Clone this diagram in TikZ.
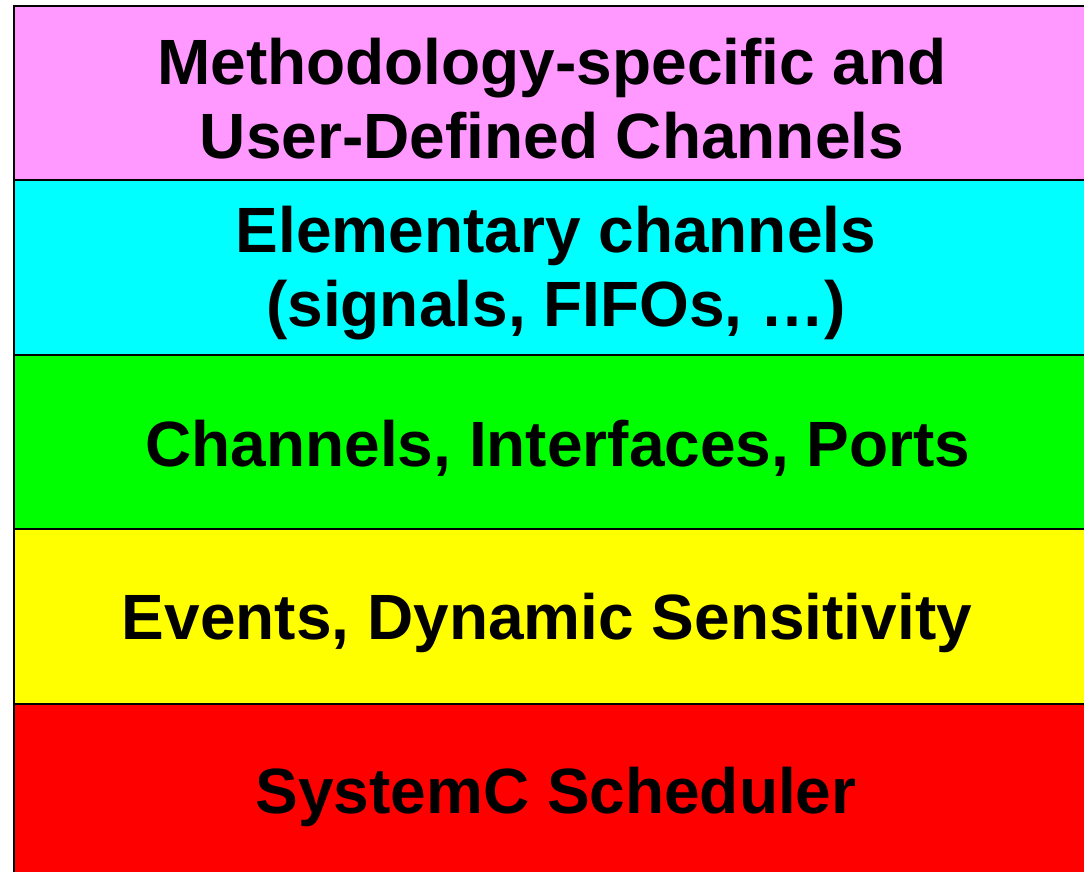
\documentclass[tikz,border=0pt]{standalone}
\usepackage{fontspec}
\setmainfont{Liberation Sans}
\usetikzlibrary{positioning}
\definecolor{layerpink}{HTML}{FF99FF}
\definecolor{layercyan}{HTML}{00FFFF}
\definecolor{layergreen}{HTML}{00FF00}
\definecolor{layeryellow}{HTML}{FFFF00}
\definecolor{layerred}{HTML}{FF0000}
\tikzset{font=\fontsize{64}{74}\bfseries\selectfont}
\tikzstyle{layer}=[draw=black,line width=2pt,rectangle,outer sep=0pt,inner sep=0pt,minimum width=1076pt,minimum height=174.5pt]
\tikzstyle{caption}=[align=center,inner sep=0pt,yshift=-6pt]

\begin{document}
\begin{tikzpicture}[x=1pt,y=-1pt]
	\clip (0,0) rectangle (1084,871);
	\node [style=layer,fill=layerred] (4) at (552, 791) {};
	\node [style=layer,fill=layeryellow,above=0pt of 4] (3) {};
	\node [style=layer,fill=layergreen,above=0pt of 3] (2) {};
	\node [style=layer,fill=layercyan,above=0pt of 2] (1) {};
	\node [style=layer,fill=layerpink,above=0pt of 1] (0) {};
	\node [style=caption,xshift=4pt] (5) at (4) {SystemC Scheduler};
	\node [style=caption,xshift=-5pt] (6) at (3) {Events, Dynamic Sensitivity};
	\node [style=caption,xshift=6pt] (7) at (2) {Channels, Interfaces, Ports};
	\node [style=caption,xshift=4pt] (8) at (1) {Elementary channels\\(signals, FIFOs, …)};
	\node [style=caption] (9) at (0) {Methodology-specific and\\User-Defined Channels};
\end{tikzpicture}
\end{document}
